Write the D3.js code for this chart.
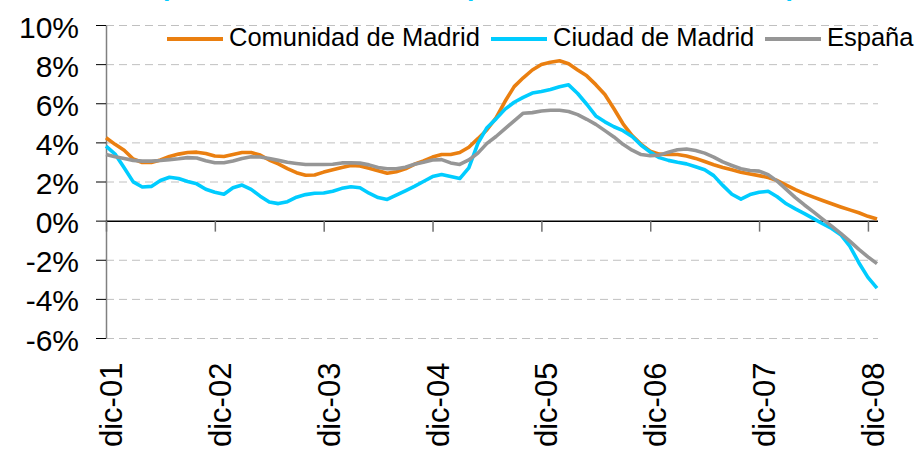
<!DOCTYPE html>
<html>
<head>
<meta charset="utf-8">
<script src="https://cdn.jsdelivr.net/npm/d3@7"></script>
<style>
  body { margin: 0; background: #fff; }
  svg { display: block; }
  text { font-family: 'Liberation Sans', Arial, sans-serif; fill: #000; }
  .grid line { stroke: #c0c0c0; stroke-width: 1; stroke-dasharray: 8 5; }
  .serie { fill: none; stroke-width: 3.6; stroke-linejoin: round; }
</style>
</head>
<body>
<div id="wrapper"></div>
<script>
// tasas mensuales, dic-01 .. ene-09 (%)
const comunidadMadrid = [
  4.24, 3.90, 3.60, 3.15, 2.97, 2.97, 3.10, 3.28, 3.40, 3.48, 3.50, 3.43,
  3.30, 3.28, 3.38, 3.48, 3.48, 3.35, 3.10, 2.90, 2.66, 2.45, 2.32, 2.33,
  2.48, 2.60, 2.72, 2.82, 2.79, 2.68, 2.55, 2.42, 2.50, 2.65, 2.88, 3.05,
  3.25, 3.38, 3.38, 3.48, 3.75, 4.19, 4.65, 5.25, 6.10, 6.85, 7.30, 7.70,
  7.98, 8.10, 8.17, 8.02, 7.70, 7.40, 6.95, 6.45, 5.72, 4.95, 4.35, 3.90,
  3.55, 3.40, 3.38, 3.38, 3.30, 3.18, 3.02, 2.86, 2.72, 2.60, 2.47, 2.38,
  2.30, 2.20, 2.05, 1.82, 1.58, 1.38, 1.20, 1.03, 0.86, 0.70, 0.55, 0.40,
  0.22, 0.08
]
const ciudadMadrid = [
  3.81, 3.40, 2.70, 1.98, 1.72, 1.75, 2.05, 2.22, 2.15, 2.00, 1.88, 1.60,
  1.45, 1.35, 1.68, 1.82, 1.60, 1.25, 0.95, 0.87, 0.97, 1.20, 1.33, 1.40,
  1.41, 1.50, 1.65, 1.73, 1.68, 1.40, 1.18, 1.08, 1.30, 1.52, 1.75, 2.00,
  2.25, 2.36, 2.25, 2.15, 2.70, 3.95, 4.75, 5.20, 5.70, 6.05, 6.30, 6.52,
  6.60, 6.70, 6.84, 6.94, 6.50, 5.95, 5.35, 5.05, 4.80, 4.60, 4.30, 3.85,
  3.50, 3.22, 3.08, 2.98, 2.90, 2.75, 2.60, 2.30, 1.80, 1.35, 1.10, 1.33,
  1.45, 1.50, 1.22, 0.86, 0.60, 0.36, 0.10, -0.16, -0.40, -0.72, -1.30, -2.15,
  -2.90, -3.45
]
const espana = [
  3.38, 3.27, 3.18, 3.08, 3.04, 3.04, 3.07, 3.12, 3.16, 3.22, 3.20, 3.06,
  2.96, 2.96, 3.05, 3.18, 3.26, 3.25, 3.18, 3.08, 2.98, 2.92, 2.87, 2.87,
  2.87, 2.88, 2.95, 2.96, 2.94, 2.85, 2.72, 2.65, 2.65, 2.73, 2.88, 2.98,
  3.10, 3.12, 2.95, 2.87, 3.10, 3.45, 3.95, 4.30, 4.70, 5.10, 5.49, 5.52,
  5.60, 5.64, 5.64, 5.58, 5.42, 5.18, 4.92, 4.60, 4.28, 3.90, 3.60, 3.38,
  3.32, 3.35, 3.50, 3.62, 3.66, 3.58, 3.45, 3.25, 3.00, 2.82, 2.65, 2.56,
  2.53, 2.35, 2.02, 1.60, 1.18, 0.80, 0.45, 0.08, -0.28, -0.65, -1.05, -1.47,
  -1.85, -2.20
]

const seriesNames = ['Comunidad de Madrid', 'Ciudad de Madrid', 'España']
const seriesColors = ['#EA7F10', '#00CCFF', '#969696']
const tickLabels = ['dic-01', 'dic-02', 'dic-03', 'dic-04', 'dic-05', 'dic-06', 'dic-07', 'dic-08']
const yTicks = [-6, -4, -2, 0, 2, 4, 6, 8, 10]
const titleText = '(variación interanual en promedio de doce meses)'

async function drawChart() {

  //1.data
  const series = [comunidadMadrid, ciudadMadrid, espana].map((values, i) => ({
    name: seriesNames[i],
    color: seriesColors[i],
    values: values
  }))
  const xAccessor = (d, i) => i
  const yAccessor = d => d

  //2.dimensions
  let dimensions = {
    width: 918,
    height: 450,
    margin: { top: 25, right: 41, bottom: 112, left: 106 }
  }
  dimensions.boundedWidth = dimensions.width - dimensions.margin.left - dimensions.margin.right
  dimensions.boundedHeight = dimensions.height - dimensions.margin.top - dimensions.margin.bottom

  //3.canvas
  const wrapper = d3.select('#wrapper')
    .append('svg')
      .attr('width', dimensions.width)
      .attr('height', dimensions.height)

  wrapper.append('rect')
    .attr('width', dimensions.width)
    .attr('height', dimensions.height)
    .attr('fill', '#fff')

  // titulo (en el original queda cortado arriba)
  wrapper.append('text')
    .attr('x', 160)
    .attr('y', -6)
    .attr('textLength', 636)
    .attr('lengthAdjust', 'spacingAndGlyphs')
    .style('font-size', '32px')
    .style('font-weight', 'bold')
    .style('fill', '#00CCFF')
    .text(titleText)

  const bounds = wrapper.append('g')
    .attr('transform', `translate(${dimensions.margin.left}, ${dimensions.margin.top})`)

  //4.scales
  const xScale = d3.scaleLinear()
    .domain([0, comunidadMadrid.length - 1])
    .range([0, dimensions.boundedWidth])

  const yScale = d3.scaleLinear()
    .domain([-6, 10])
    .range([dimensions.boundedHeight, 0])

  //5.grid
  bounds.append('g')
    .attr('class', 'grid')
    .selectAll('line')
    .data(yTicks.filter(d => d != 0))
    .enter().append('line')
      .attr('x1', 0)
      .attr('x2', dimensions.boundedWidth + 1)
      .attr('y1', d => yScale(d) + 0.5)
      .attr('y2', d => yScale(d) + 0.5)

  //6.data
  const lineGenerator = d3.line()
    .x((d, i) => xScale(xAccessor(d, i)))
    .y(d => yScale(yAccessor(d)))

  //7.axes
  const yAxis = d3.axisLeft(yScale)
    .tickValues(yTicks)
    .tickSize(10)
    .tickSizeOuter(0)
    .tickPadding(17)
    .tickFormat(d => d + '%')

  const yAxisGroup = bounds.append('g').call(yAxis)
  yAxisGroup.select('.domain').attr('stroke', '#808080').attr('stroke-width', 1.5)
  yAxisGroup.selectAll('.tick line').attr('stroke', '#000')
  yAxisGroup.selectAll('text')
    .attr('dy', '0.4em')
    .style('font-size', '30px')
    .style('font-family', "'Liberation Sans', Arial, sans-serif")

  const xAxis = d3.axisBottom(xScale)
    .tickValues(d3.range(0, 85, 12))
    .tickSize(11)
    .tickSizeOuter(0)
    .tickFormat((d, i) => tickLabels[i])

  const xAxisGroup = bounds.append('g')
    .attr('transform', `translate(0, ${yScale(0)})`)
    .call(xAxis)
  xAxisGroup.select('.domain')
    .attr('d', `M0,0.5H${dimensions.boundedWidth + 1}`)
    .attr('stroke', '#000')
    .attr('stroke-width', 1.5)
  xAxisGroup.selectAll('.tick line').attr('stroke', '#707070').attr('stroke-width', 1.5)
  xAxisGroup.selectAll('text')
    .attr('transform', 'rotate(-90)')
    .attr('text-anchor', 'end')
    .attr('x', -142)
    .attr('y', 0)
    .attr('dy', '0.5em')
    .style('font-size', '31px')
    .style('font-family', "'Liberation Sans', Arial, sans-serif")

  bounds.selectAll('.serie')
    .data(series)
    .enter().append('path')
      .attr('class', 'serie')
      .attr('stroke', d => d.color)
      .attr('d', d => lineGenerator(d.values))

  //8.legend
  const legendX = [167, 491, 765]
  const legend = wrapper.append('g')
    .selectAll('g')
    .data(series)
    .enter().append('g')
      .attr('transform', (d, i) => `translate(${legendX[i]}, 39)`)

  legend.append('line')
    .attr('x1', 0)
    .attr('x2', 56)
    .attr('stroke', d => d.color)
    .attr('stroke-width', 4)

  legend.append('text')
    .attr('x', 62)
    .attr('y', 7)
    .style('font-size', '25.5px')
    .text(d => d.name)
}
drawChart()
</script>
</body>
</html>
